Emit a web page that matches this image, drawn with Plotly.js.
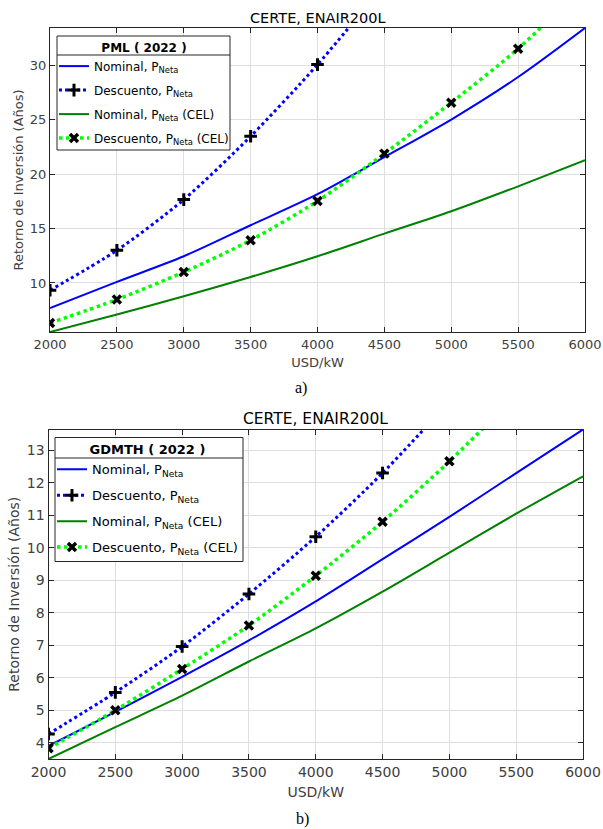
<!DOCTYPE html>
<html>
<head>
<meta charset="utf-8">
<script src="https://cdn.plot.ly/plotly-3.0.1.min.js"></script>
<style>html,body{margin:0;padding:0;background:#fff;}</style>
</head>
<body>
<div id="chart" style="width:603px;height:829px;"></div>
<script>
// ---- data ----
const usd = [2000, 2500, 3000, 3500, 4000, 4500, 5000, 5500, 6000];
const legendNames = ['Nominal, P<sub>Neta</sub>', 'Descuento, P<sub>Neta</sub>', 'Nominal, P<sub>Neta</sub> (CEL)', 'Descuento, P<sub>Neta</sub> (CEL)'];
const chartTitle = 'CERTE, ENAIR200L';
const xLabel = 'USD/kW';
const yLabel = 'Retorno de Inversión (Años)';
const xTicks = [2000, 2500, 3000, 3500, 4000, 4500, 5000, 5500, 6000];
const legendTitles = ['PML ( 2022 )', 'GDMTH ( 2022 )'];

// a) PML (2022)
const pmlNomNeta  = [7.7, 10.1, 12.45, 15.3, 18.15, 21.55, 25.0, 28.9, 33.4];
const pmlDescNetaX = [2000, 2500, 3000, 3500, 4000, 4500];
const pmlDescNeta = [9.33, 13.0, 17.65, 23.46, 30.04, 37.4];
const pmlNomCel   = [5.5, 7.1, 8.78, 10.55, 12.45, 14.53, 16.58, 18.87, 21.26];
const pmlDescCel  = [6.33, 8.48, 11.0, 13.92, 17.52, 21.87, 26.55, 31.5, 37.4];

// b) GDMTH (2022)
const gdNomNeta  = [3.9, 4.95, 6.03, 7.15, 8.35, 9.65, 10.95, 12.3, 13.64];
const gdDescNetaX = [2000, 2500, 3000, 3500, 4000, 4500, 5000];
const gdDescNeta = [4.27, 5.55, 6.96, 8.58, 10.34, 12.3, 14.5];
const gdNomCel   = [3.5, 4.48, 5.45, 6.5, 7.52, 8.65, 9.85, 11.05, 12.2];
const gdDescCelX = [2000, 2500, 3000, 3500, 4000, 4500, 5000, 5500];
const gdDescCel  = [3.83, 5.0, 6.27, 7.61, 9.14, 10.8, 12.66, 14.7];

// ---- styling helpers ----
const W = 603, H = 829;
const px = v => v / W;
const py = v => 1 - v / H;
const FONT = 'DejaVu Sans, Verdana, sans-serif';
const BLUE = '#0000ff', DGREEN = '#008000', LGREEN = '#00ff00';

function traces(xa, ya, leg, nom, descX, desc, nomCel, descCelX, descCel) {
  return [
    {x: usd, y: nom, xaxis: xa, yaxis: ya, legend: leg, legendgroup: leg + 'a', name: legendNames[0], mode: 'lines',
     line: {color: BLUE, width: 2, shape: 'spline', smoothing: 0.8}},
    {x: descX, y: desc, xaxis: xa, yaxis: ya, legend: leg, legendgroup: leg + 'b', name: legendNames[1], mode: 'lines+markers',
     line: {color: BLUE, width: 3, dash: 'dot', shape: 'spline', smoothing: 0.8},
     marker: {symbol: 'cross-thin', size: 9, color: '#000', line: {color: '#000', width: 3}}},
    {x: usd, y: nomCel, xaxis: xa, yaxis: ya, legend: leg, legendgroup: leg + 'c', name: legendNames[2], mode: 'lines',
     line: {color: DGREEN, width: 2, shape: 'spline', smoothing: 0.8}},
    {x: descCelX, y: descCel, xaxis: xa, yaxis: ya, legend: leg, legendgroup: leg + 'd', name: legendNames[3], mode: 'lines+markers',
     line: {color: LGREEN, width: 3.5, dash: 'dot', shape: 'spline', smoothing: 0.8},
     marker: {symbol: 'x-thin', size: 8, color: '#000', line: {color: '#000', width: 3.5}}}
  ];
}

const data = [
  ...traces('x', 'y', 'legend', pmlNomNeta, pmlDescNetaX, pmlDescNeta, pmlNomCel, usd, pmlDescCel),
  ...traces('x2', 'y2', 'legend2', gdNomNeta, gdDescNetaX, gdDescNeta, gdNomCel, gdDescCelX, gdDescCel)
];

function axCommon(fs) {
  return {
    showline: true, linecolor: '#262626', linewidth: 1, mirror: 'ticks',
    ticks: 'inside', ticklen: 5, tickcolor: '#262626', tickwidth: 1,
    showgrid: true, gridcolor: '#dedede', gridwidth: 1, zeroline: false,
    tickfont: {family: FONT, size: fs, color: '#404040'}
  };
}
function xAxis(fs, standoff) {
  return Object.assign(axCommon(fs), {
    range: [2000, 6000], tickmode: 'array', tickvals: xTicks, ticktext: xTicks.map(String),
    title: {text: xLabel, font: {family: FONT, size: fs, color: '#404040'}, standoff: standoff}
  });
}
function yTitle(fs, standoff) {
  return {text: yLabel, font: {family: FONT, size: fs, color: '#404040'}, standoff: standoff};
}

const topRange = [Math.min(...pmlNomCel), Math.max(...pmlNomNeta)];
const botRange = [Math.min(...gdNomCel), Math.max(...gdNomNeta)];

function legendCfg(x, y, title, fs, gap) {
  return {
    bgcolor: 'rgba(0,0,0,0)', borderwidth: 0,
    font: {family: FONT, size: fs, color: '#000'}, itemwidth: 30,
    xanchor: 'left', yanchor: 'top', tracegroupgap: gap,
    x: px(x), y: py(y),
    title: {text: '<b>' + title + '</b>', side: 'top center', font: {family: FONT, size: fs, color: '#000'}}
  };
}

function legendBox(x0, x1, y0, y1, ysep) {
  return [
    {type: 'rect', xref: 'paper', yref: 'paper', x0: px(x0), x1: px(x1), y0: py(y1), y1: py(y0),
     fillcolor: '#ffffff', line: {color: '#262626', width: 1}, layer: 'above'},
    {type: 'line', xref: 'paper', yref: 'paper', x0: px(x0), x1: px(x1), y0: py(ysep), y1: py(ysep),
     line: {color: '#262626', width: 1}, layer: 'above'}
  ];
}

const layout = {
  width: W, height: H, autosize: false,
  margin: {l: 0, r: 0, t: 0, b: 0},
  paper_bgcolor: '#fff', plot_bgcolor: '#fff',
  showlegend: true,
  xaxis: Object.assign(xAxis(13, 7), {domain: [px(50), px(585)], anchor: 'y'}),
  yaxis: Object.assign(axCommon(13), {domain: [py(332), py(28)], anchor: 'x', range: topRange,
    tickvals: [10, 15, 20, 25, 30], title: yTitle(13, 3)}),
  xaxis2: Object.assign(xAxis(14, 8), {domain: [px(48.5), px(583)], anchor: 'y2'}),
  yaxis2: Object.assign(axCommon(14), {domain: [py(759), py(429.5)], anchor: 'x2', range: botRange,
    tickvals: [4, 5, 6, 7, 8, 9, 10, 11, 12, 13], title: yTitle(14, 3)}),
  legend: legendCfg(54, 36, legendTitles[0], 12, 5),
  legend2: legendCfg(52, 437.5, legendTitles[1], 13, 6),
  shapes: [...legendBox(57, 230, 36, 150, 55), ...legendBox(55, 243, 437.5, 561.5, 458)],
  annotations: [
    {text: chartTitle, xref: 'paper', yref: 'paper', x: px(318), y: py(18), showarrow: false,
     font: {family: FONT, size: 14.5, color: '#000'}, xanchor: 'center', yanchor: 'middle'},
    {text: chartTitle, xref: 'paper', yref: 'paper', x: px(315), y: py(419), showarrow: false,
     font: {family: FONT, size: 15.5, color: '#000'}, xanchor: 'center', yanchor: 'middle'},
    {text: 'a)', xref: 'paper', yref: 'paper', x: px(301), y: py(388), showarrow: false,
     font: {family: 'Liberation Serif, Times New Roman, serif', size: 16, color: '#000'}, xanchor: 'center', yanchor: 'middle'},
    {text: 'b)', xref: 'paper', yref: 'paper', x: px(302), y: py(819), showarrow: false,
     font: {family: 'Liberation Serif, Times New Roman, serif', size: 16, color: '#000'}, xanchor: 'center', yanchor: 'middle'}
  ]
};

Plotly.newPlot('chart', data, layout, {displayModeBar: false, staticPlot: true});
</script>
</body>
</html>
